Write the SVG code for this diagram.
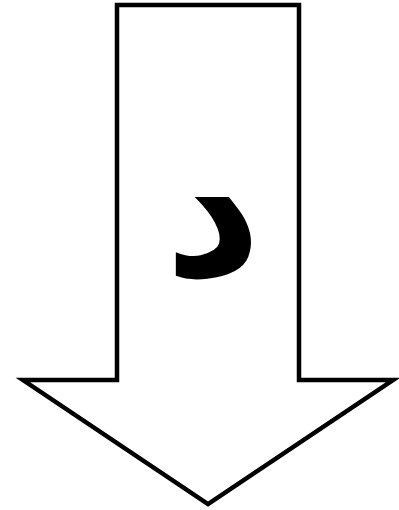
<svg xmlns="http://www.w3.org/2000/svg" width="399" height="510" viewBox="0 0 399 510">
<style>
.shape{fill:#fff;stroke:#000;stroke-width:4.5;stroke-linejoin:miter}
.lbl{font-family:"DejaVu Sans",sans-serif;font-weight:bold;font-size:190px;fill:#000}
</style>
<rect width="399" height="510" fill="#fff"/>
<g id="arrow">
<path class="shape" d="M117,5 L299,5 L299,380 L393,380 L208,504 L23,380 L117,380 Z"/>
</g>
<g id="label">
<text class="lbl" x="213" y="276" text-anchor="middle">د</text>
</g>
</svg>
